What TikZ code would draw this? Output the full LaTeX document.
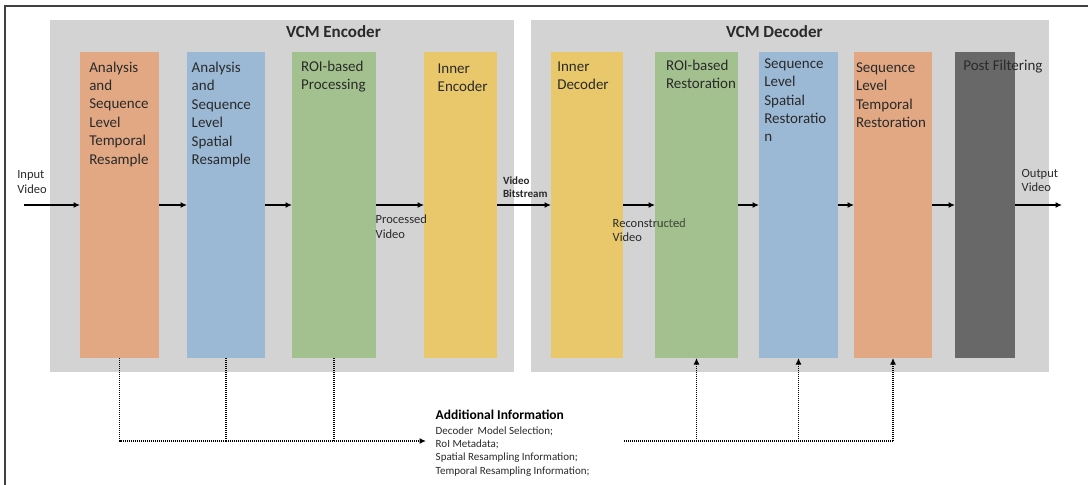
\documentclass[tikz,border=0pt]{standalone}
\usepackage{fontspec}
\setmainfont{Carlito}
\usetikzlibrary{arrows.meta}
\definecolor{cOrange}{HTML}{E1A883}
\definecolor{cBlue}{HTML}{9BB8D5}
\definecolor{cGreen}{HTML}{A3C18E}
\definecolor{cYellow}{HTML}{E8C86A}
\definecolor{cDark}{HTML}{686868}
\definecolor{cBg}{HTML}{D3D3D3}
\definecolor{cTxt}{HTML}{2A2A2A}
\definecolor{cFrame}{HTML}{404040}
\tikzset{
  blk/.style={draw=none, inner sep=0pt, outer sep=0pt, anchor=north west},
  grp/.style={fill=cBg, draw=none, inner sep=0pt, outer sep=0pt, anchor=north west},
  lbl/.style={inner sep=0pt, outer sep=0pt, anchor=base west, align=left, text=cTxt,
    font=\fontsize{15}{18.4}\selectfont},
  small/.style={inner sep=0pt, outer sep=0pt, anchor=base west, align=left, text=cTxt,
    font=\fontsize{12.5}{14.5}\selectfont},
  title/.style={inner sep=0pt, outer sep=0pt, anchor=base west, text=cTxt,
    font=\fontsize{17}{20}\selectfont\bfseries},
  flow/.style={line width=1.5pt, -{Latex[length=6.5pt,width=6pt]}},
  dotline/.style={line width=1.6pt, dash pattern=on 1.2pt off 0.8pt},
  dotarrow/.style={dotline, -{Latex[length=6.5pt,width=6pt,sep=0pt]}},
}
\begin{document}
\begin{tikzpicture}[x=1pt,y=-1pt]
\useasboundingbox (0,0) rectangle (1088,485);
\fill[white] (0,0) rectangle (1088,485);
% frame
\draw[cFrame, line width=1.5pt] (1088,6) -- (5,6) -- (5,485);
% groups
\node[grp, minimum width=464pt, minimum height=352pt] (enc) at (50,20) {};
\node[grp, minimum width=518pt, minimum height=352pt] (dec) at (531,20) {};
\node[title] (enctitle) at (286,37.7) {VCM Encoder};
\node[title] (dectitle) at (726,37.7) {VCM Decoder};
% boxes
\node[blk, fill=cOrange, minimum width=79pt, minimum height=306pt] (o1) at (80,52) {};
\node[blk, fill=cBlue, minimum width=78pt, minimum height=306pt] (b1) at (187,52) {};
\node[blk, fill=cGreen, minimum width=84pt, minimum height=306pt] (g1) at (292,52) {};
\node[blk, fill=cYellow, minimum width=73pt, minimum height=306pt] (y1) at (424,52) {};
\node[blk, fill=cYellow, minimum width=72pt, minimum height=306pt] (y2) at (551,52) {};
\node[blk, fill=cGreen, minimum width=83pt, minimum height=306pt] (g2) at (655,52) {};
\node[blk, fill=cBlue, minimum width=79pt, minimum height=306pt] (b2) at (759,52) {};
\node[blk, fill=cOrange, minimum width=78pt, minimum height=306pt] (o2) at (854,52) {};
\node[blk, fill=cDark, minimum width=60pt, minimum height=306pt] (pf) at (955,52) {};
% box labels (anchor = baseline of last line)
\node[lbl] (to1) at (89.3,164) {Analysis\\and\\Sequence\\Level\\Temporal\\Resample};
\node[lbl] (tb1) at (191.7,164.5) {Analysis\\and\\Sequence\\Level\\Spatial\\Resample};
\node[lbl] (tg1) at (301,89.4) {ROI-based\\Processing};
\node[lbl] (ty1) at (437.7,91.7) {Inner\\Encoder};
\node[lbl] (ty2) at (557.3,89.4) {Inner\\Decoder};
\node[lbl] (tg2) at (666,88.4) {ROI-based\\Restoration};
\node[lbl] (tb2) at (764.3,141.9) {Sequence\\Level\\Spatial\\Restoratio\\n};
\node[lbl] (to2) at (856,127.5) {Sequence\\Level\\Temporal\\Restoration};
\node[lbl] (tpf) at (963.3,70.7) {Post Filtering};
% flow
\coordinate (vin) at (24,205);
\coordinate (vout) at (1062,205);
\draw[flow] (vin) -- (o1.west);
\draw[flow] (o1.east) -- (b1.west);
\draw[flow] (b1.east) -- (g1.west);
\draw[flow] (g1.east) -- (y1.west);
\draw[flow] (y1.east) -- (y2.west);
\draw[flow] (y2.east) -- (g2.west);
\draw[flow] (g2.east) -- (b2.west);
\draw[flow] (b2.east) -- (o2.west);
\draw[flow] (o2.east) -- (pf.west);
\draw[flow] (pf.east) -- (vout);
% small labels
\node[small] (lin) at (17.3,193.3) {Input\\Video};
\node[small] (lproc) at (375.7,238) {Processed\\Video};
\node[small, font=\fontsize{11}{12.6}\selectfont\bfseries] (lbit) at (503,197.3) {Video\\Bitstream};
\node[small] (lrec) at (612.7,241.7) {Reconstructed\\Video};
\begin{scope}
\clip (g2.north west) rectangle (g2.south east);
\node[small, text=cGreen!55!black] (lrec2) at (612.7,241.7) {Reconstructed\\Video};
\end{scope}
\node[small] (lout) at (1021.7,191.7) {Output\\Video};
% additional info
\node[inner sep=0pt, outer sep=0pt, anchor=base west, text=black,
  font=\fontsize{13.5}{15}\selectfont\bfseries] (aititle) at (435.7,419) {Additional Information};
\node[inner sep=0pt, outer sep=0pt, anchor=base west, align=left, text=cTxt,
  font=\fontsize{11}{13.3}\selectfont] (ainfo) at (435.7,474)
  {Decoder\, Model Selection;\\RoI Metadata;\\Spatial Resampling Information;\\Temporal Resampling Information;};
\coordinate (bus) at (0,441);
\coordinate (aiin) at (426,441);
\coordinate (aiout) at (624,441);
\coordinate (busend) at (893,441);
\draw[dotline] (o1.south) -- (o1.south |- bus) -- (b1.south |- bus);
\draw[dotline] (b1.south) -- (b1.south |- bus);
\draw[dotline] (g1.south) -- (g1.south |- bus);
\draw[dotarrow] (b1.south |- bus) -- (aiin);
\draw[dotline] (aiout) -- (busend);
\draw[dotarrow] (g2.south |- bus) -- (g2.south);
\draw[dotarrow] (b2.south |- bus) -- (b2.south);
\draw[dotarrow] (o2.south |- bus) -- (o2.south);
\end{tikzpicture}
\end{document}
